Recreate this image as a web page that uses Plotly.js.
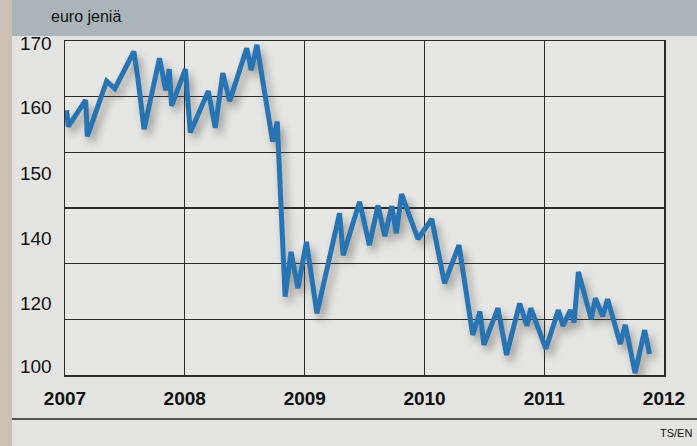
<!DOCTYPE html>
<html>
<head>
<meta charset="utf-8">
<script src="https://cdn.plot.ly/plotly-3.0.1.min.js"></script>
<style>
  html, body { margin: 0; padding: 0; background: #e3e3e1; }
  #chart { width: 697px; height: 446px; }
  .js-line { filter: drop-shadow(4px 6px 4px rgba(60,60,60,0.45)); }
</style>
</head>
<body>
<div id="chart"></div>
<script>
// EUR/JPY exchange rate (euro in yen)
const dates = ['2007-01-06','2007-01-11','2007-03-05','2007-03-10','2007-05-08','2007-06-02','2007-07-30','2007-08-12','2007-08-30','2007-10-16',
  '2007-11-04','2007-11-15','2007-11-22','2008-01-03','2008-01-18','2008-03-13','2008-04-03','2008-04-26','2008-05-17','2008-07-08',
  '2008-07-22','2008-08-08','2008-09-25','2008-10-09','2008-11-02','2008-11-20','2008-12-11','2009-01-06','2009-02-07','2009-04-17',
  '2009-04-28','2009-06-17','2009-07-17','2009-08-12','2009-09-02','2009-09-23','2009-10-07','2009-10-23','2009-12-12','2010-01-23',
  '2010-03-03','2010-04-16','2010-05-28','2010-06-19','2010-07-01','2010-08-13','2010-09-08','2010-10-18','2010-11-09','2010-11-21',
  '2011-01-06','2011-02-13','2011-02-27','2011-03-22','2011-04-02','2011-04-15','2011-05-24','2011-06-06','2011-06-28','2011-07-13',
  '2011-08-21','2011-09-05','2011-10-05','2011-11-03','2011-11-18'];
const eurJpy = [155.5,152.1,157.6,150.0,161.6,160.0,167.8,161.8,151.5,166.4,
  159.7,164.1,156.4,164.1,150.8,159.5,151.8,163.3,157.4,168.5,
  163.9,169.2,148.9,153.1,116.4,125.8,118.2,127.9,112.9,133.9,
  125.1,136.3,127.2,135.5,129.1,135.4,129.7,137.9,128.5,132.7,
  119.2,127.2,108.4,113.3,106.3,114.0,104.2,115.0,110.3,114.0,
  105.5,113.6,110.3,113.6,111.0,121.6,111.7,116.1,112.3,115.9,
  106.5,110.5,100.4,109.4,104.4];

// x axis: years
const yearTicks = ['2007-01-01','2008-01-01','2009-01-01','2010-01-01','2011-01-01','2012-01-01'];
const yearLabels = ['2007','2008','2009','2010','2011','2012'];

// y axis: the printed labels are evenly spaced (not at their true values)
const yLabelText = ['170','160','150','140','120','100'];
const yLabelPos = [169.5,156.0,142.3,128.6,115.0,101.8];
// horizontal grid lines: six equal bands between 100 and 170
const yGridVals = [100,111.67,123.33,135,146.67,158.33,170];

const unitLabel = 'euro jeniä';
const sourceLabel = 'TS/EN';

const trace = {
  type: 'scatter', mode: 'lines',
  x: dates, y: eurJpy,
  line: { color: '#2874b2', width: 5, shape: 'linear' },
  hoverinfo: 'skip'
};

const layout = {
  width: 697, height: 446,
  margin: { l: 65, r: 33, t: 41, b: 71 },
  paper_bgcolor: '#e3e3e1',
  plot_bgcolor: '#e6e6e4',
  showlegend: false,
  font: { family: 'Liberation Sans, Arial, sans-serif', color: '#111' },
  xaxis: {
    type: 'date',
    range: ['2007-01-01', '2012-01-01'],
    tickmode: 'array', tickvals: yearTicks, ticktext: yearLabels,
    tickfont: { size: 19, color: '#111', family: 'Liberation Sans, Arial, sans-serif', weight: 'bold' },
    ticks: '', ticklabelstandoff: 6,
    showgrid: true, gridcolor: '#2b2b2b', gridwidth: 1.2,
    showline: true, linecolor: '#2b2b2b', linewidth: 1.5, mirror: true,
    zeroline: false, fixedrange: true
  },
  yaxis: {
    range: [100, 170],
    tickmode: 'array', tickvals: yLabelPos, ticktext: yLabelText,
    tickfont: { size: 19, color: '#111', family: 'Liberation Sans, Arial, sans-serif' },
    ticks: '', ticklabelstandoff: 8,
    showgrid: false,
    minor: { tickmode: 'array', tickvals: yGridVals, showgrid: true, gridcolor: '#2b2b2b', gridwidth: 1.2, ticks: '' },
    showline: true, linecolor: '#2b2b2b', linewidth: 1.5, mirror: true,
    zeroline: false, fixedrange: true
  },
  shapes: [
    { type: 'rect', xref: 'paper', yref: 'paper', x0: -0.11, x1: 1.06, y0: 1.015, y1: 1.13,
      fillcolor: '#a9b5b9', line: { width: 0 }, layer: 'below' },
    { type: 'rect', xref: 'paper', yref: 'paper', x0: -0.11, x1: -0.0885, y0: -0.22, y1: 1.13,
      fillcolor: '#cbc0b3', line: { width: 0 }, layer: 'below' },
    { type: 'line', xref: 'paper', yref: 'paper', x0: -0.0885, x1: 1.06, y0: -0.1317, y1: -0.1317,
      line: { color: '#222', width: 1.6 } }
  ],
  annotations: [
    { text: unitLabel, xref: 'paper', yref: 'paper', x: -0.027, y: 1.072,
      xanchor: 'left', yanchor: 'middle', showarrow: false,
      font: { size: 16, color: '#111', family: 'Liberation Sans, Arial, sans-serif' } },
    { text: sourceLabel, xref: 'paper', yref: 'paper', x: 0.99, y: -0.174,
      xanchor: 'left', yanchor: 'middle', showarrow: false,
      font: { size: 11, color: '#111', family: 'Liberation Sans, Arial, sans-serif' } }
  ]
};

Plotly.newPlot('chart', [trace], layout, { staticPlot: true, displayModeBar: false });
</script>
</body>
</html>
